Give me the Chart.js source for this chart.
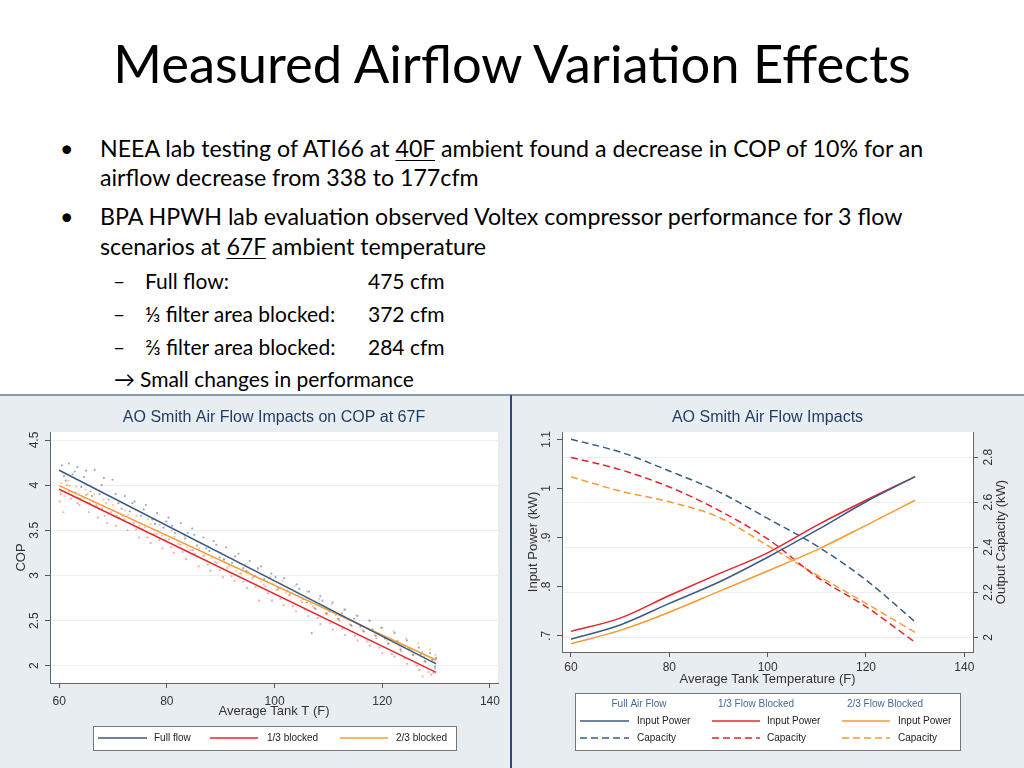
<!DOCTYPE html>
<html>
<head>
<meta charset="utf-8">
<script src="https://cdn.jsdelivr.net/npm/chart.js@4.4.0/dist/chart.umd.min.js"></script>
<style>
  html, body { margin: 0; padding: 0; }
  body { width: 1024px; height: 768px; position: relative; overflow: hidden; background: #fff;
         font-family: Lato, 'Open Sans', sans-serif; color: #000; }
  .t { position: absolute; white-space: nowrap; line-height: 1; }
  #title { left: 0; width: 1024px; text-align: center; top: 37px; font-size: 52.5px; }
  .b { font-size: 23.2px; }
  .s { font-size: 21px; }
  u { text-decoration-thickness: 1px; text-underline-offset: 3px; }
  #panel { position: absolute; left: 0; top: 394px; width: 1024px; height: 374px; background: #e8edf2;
           border-top: 2px solid #8a9bb0; box-sizing: border-box; }
  #divider { position: absolute; left: 510px; top: 395px; width: 2px; height: 373px; background: #2a4a7f; }
  canvas { position: absolute; }
</style>
</head>
<body>
<div id="title" class="t">Measured Airflow Variation Effects</div>

<div class="t b" style="left:60px;top:137px">•</div>
<div class="t b" style="left:100px;top:137px">NEEA lab testing of ATI66 at <u>40F</u> ambient found a decrease in COP of 10% for an</div>
<div class="t b" style="left:100px;top:166px">airflow decrease from 338 to 177cfm</div>
<div class="t b" style="left:60px;top:205px">•</div>
<div class="t b" style="left:100px;top:205px">BPA HPWH lab evaluation observed Voltex compressor performance for 3 flow</div>
<div class="t b" style="left:100px;top:235px">scenarios at <u>67F</u> ambient temperature</div>

<div class="t s" style="left:113px;top:270px">–</div>
<div class="t s" style="left:145px;top:270px">Full flow:</div>
<div class="t s" style="left:368px;top:270px">475 cfm</div>
<div class="t s" style="left:113px;top:303px">–</div>
<div class="t s" style="left:145px;top:303px">⅓ filter area blocked:</div>
<div class="t s" style="left:368px;top:303px">372 cfm</div>
<div class="t s" style="left:113px;top:336px">–</div>
<div class="t s" style="left:145px;top:336px">⅔ filter area blocked:</div>
<div class="t s" style="left:368px;top:336px">284 cfm</div>
<div class="t s" style="left:114px;top:368px">→</div>
<div class="t s" style="left:140px;top:368px">Small changes in performance</div>

<div id="panel"></div>
<div id="divider"></div>
<canvas id="copChart" width="510" height="372" style="left:0;top:396px"></canvas>
<canvas id="powerChart" width="511" height="372" style="left:513px;top:396px"></canvas>

<script>
// --- data ---
const tankTicks = [60, 80, 100, 120, 140];
const copTicks = [2, 2.5, 3, 3.5, 4, 4.5];
const copTickLabels = ['2', '2.5', '3', '3.5', '4', '4.5'];
const powerTicks = [0.7, 0.8, 0.9, 1, 1.1];
const powerTickLabels = ['.7', '.8', '.9', '1', '1.1'];
const capTicks = [2, 2.2, 2.4, 2.6, 2.8];
const capTickLabels = ['2', '2.2', '2.4', '2.6', '2.8'];

// left graph: linear fits and measured points
const fitX = [60, 130];
const fullFitCop = [4.165, 2.02];
const blk1FitCop = [3.955, 1.925];
const blk2FitCop = [3.995, 2.063];

const fullFlowPts = [[60.5,4.22],[61.2,4.05],[61.8,4.24],[62.5,4.12],[63.4,4.20],[64.1,3.98],[65.0,4.16],[65.8,3.93],
  [66.6,4.17],[67.5,3.90],[68.3,4.08],[69.2,3.84],[69.9,4.06],[71.0,3.80],[72.2,3.88],[73.1,3.71],[74.0,3.82],
  [75.2,3.66],[76.1,3.78],[77.3,3.62],[78.2,3.69],[79.4,3.53],[80.3,3.64],[81.5,3.47],[82.6,3.58],[83.4,3.41],
  [84.7,3.52],[85.6,3.33],[86.8,3.42],[87.9,3.27],[88.7,3.38],[89.8,3.20],[91.0,3.31],[92.1,3.14],[93.3,3.24],
  [94.2,3.08],[95.4,3.16],[96.3,2.99],[97.5,3.10],[98.6,2.93],[99.4,3.02],[100.7,2.86],[101.8,2.97],[103.0,2.80],
  [104.1,2.90],[105.3,2.74],[106.4,2.82],[106.9,2.36],[107.6,2.63],[108.5,2.77],[109.7,2.58],[110.8,2.70],[111.9,2.52],
  [113.1,2.62],[114.2,2.45],[115.4,2.55],[116.5,2.38],[117.7,2.50],[118.8,2.33],[119.9,2.42],[121.1,2.24],
  [122.3,2.36],[123.4,2.18],[124.6,2.28],[125.7,2.12],[126.8,2.20],[127.9,2.05],[128.9,2.14],[129.8,1.99],
  [60.9,4.10],[62.9,4.15],[64.6,4.09],[66.1,3.88],[67.9,4.00],[70.5,3.90],[71.6,3.74],[73.6,3.80],[75.7,3.73],
  [77.8,3.57],[79.9,3.60],[81.0,3.55],[83.9,3.47],[85.1,3.45],[87.3,3.30],[89.2,3.34],[90.6,3.18],[92.7,3.21],
  [94.8,3.05],[96.9,3.08],[98.1,2.96],[100.2,2.98],[102.4,2.83],[104.6,2.85],[106.0,2.70],[108.9,2.72],[110.2,2.60],
  [112.5,2.58],[114.8,2.52],[116.0,2.44],[118.2,2.40],[120.5,2.30],[122.8,2.27],[125.1,2.19],[127.2,2.13],
  [129.3,2.06],[130.0,2.08]];
const blk1Pts = [[60.3,3.90],[60.8,3.70],[61.5,4.00],[62.2,3.85],[63.0,3.92],[63.8,3.78],[64.6,3.86],[65.5,3.70],
  [66.3,3.82],[67.2,3.64],[68.0,3.74],[68.9,3.58],[69.7,3.70],[70.6,3.55],[71.8,3.66],[72.7,3.50],[73.9,3.58],
  [74.8,3.42],[75.9,3.53],[77.0,3.36],[78.1,3.46],[79.2,3.30],[80.4,3.40],[81.3,3.25],[82.5,3.34],[83.6,3.18],
  [84.8,3.28],[85.9,3.10],[87.0,3.22],[88.1,3.05],[89.3,3.14],[90.4,2.98],[91.5,3.10],[92.6,2.94],[93.8,3.02],
  [94.9,2.86],[96.0,2.98],[97.1,2.72],[98.3,2.88],[99.5,2.72],[100.6,2.84],[101.7,2.67],[102.8,2.78],[104.0,2.60],
  [105.1,2.70],[106.3,2.55],[107.4,2.64],[108.5,2.46],[109.7,2.57],[110.8,2.40],[112.0,2.50],[113.1,2.34],
  [114.3,2.44],[115.4,2.28],[116.6,2.38],[117.7,2.22],[118.9,2.30],[120.0,2.14],[121.2,2.25],[122.3,2.10],
  [123.5,2.16],[124.6,2.02],[125.8,2.12],[126.9,1.95],[127.5,1.88],[128.0,2.04],[129.1,1.90],[129.8,1.97],
  [60.1,3.82],[61.9,3.93],[63.4,3.80],[65.0,3.89],[66.9,3.78],[68.5,3.66],[70.1,3.72],[72.1,3.62],[74.3,3.51],
  [76.4,3.42],[78.6,3.39],[80.8,3.31],[82.9,3.26],[85.2,3.24],[87.6,3.12],[89.8,3.06],[92.0,2.99],[94.2,2.93],
  [96.5,2.87],[98.8,2.80],[101.1,2.74],[103.4,2.66],[105.7,2.62],[108.0,2.53],[110.3,2.47],[112.6,2.41],
  [114.9,2.33],[117.2,2.27],[119.5,2.20],[121.8,2.13],[124.1,2.08],[126.4,2.00],[128.6,1.93],[129.5,1.92]];
const blk2Pts = [[60.4,4.02],[61.0,3.88],[61.7,4.05],[62.4,3.92],[63.2,3.98],[64.0,3.85],[64.9,3.95],[65.7,3.80],
  [66.5,3.90],[67.4,3.74],[68.2,3.84],[69.1,3.68],[70.0,3.78],[71.1,3.64],[72.3,3.72],[73.2,3.58],[74.4,3.66],
  [75.3,3.52],[76.5,3.62],[77.6,3.46],[78.7,3.56],[79.8,3.40],[81.0,3.50],[82.1,3.35],[83.3,3.44],[84.4,3.28],
  [85.5,3.38],[86.7,3.22],[87.8,3.32],[88.9,3.15],[90.1,3.25],[91.2,3.08],[92.4,3.18],[93.5,3.02],[94.6,3.12],
  [95.8,2.96],[96.9,3.06],[98.0,2.90],[99.2,2.98],[100.3,2.84],[101.5,2.94],[102.6,2.78],[103.7,2.88],[104.9,2.72],
  [106.0,2.82],[107.1,2.66],[108.3,2.74],[109.4,2.58],[110.6,2.68],[111.7,2.52],[112.9,2.62],[114.0,2.46],
  [115.2,2.56],[116.3,2.40],[117.5,2.50],[118.6,2.34],[119.8,2.42],[120.9,2.28],[122.1,2.38],[123.2,2.22],
  [124.4,2.30],[125.5,2.16],[126.7,2.25],[127.8,2.10],[128.9,2.18],[129.7,2.04],[129.9,2.12],
  [60.2,3.93],[62.0,3.99],[63.6,3.86],[65.3,3.90],[67.0,3.76],[68.7,3.80],[70.7,3.66],[72.8,3.67],[74.9,3.55],
  [77.0,3.57],[79.1,3.44],[81.4,3.43],[83.7,3.31],[86.0,3.30],[88.3,3.19],[90.6,3.17],[92.9,3.05],[95.2,3.04],
  [97.5,2.93],[99.8,2.91],[102.1,2.81],[104.4,2.78],[106.7,2.68],[109.0,2.65],[111.3,2.56],[113.6,2.52],
  [115.9,2.43],[118.2,2.40],[120.5,2.31],[122.8,2.27],[125.1,2.18],[127.4,2.15],[129.3,2.07],[130.0,2.09]];

// right graph: input power (kW) and output capacity (kW)
const tankTemps = [60, 70, 80, 90, 100, 110, 120, 130];
const fullPower = [0.693, 0.722, 0.766, 0.809, 0.860, 0.915, 0.973, 1.024];
const blk1Power = [0.709, 0.736, 0.782, 0.826, 0.869, 0.925, 0.976, 1.024];
const blk2Power = [0.684, 0.711, 0.748, 0.790, 0.832, 0.875, 0.925, 0.976];
const fullCap = [2.880, 2.823, 2.739, 2.647, 2.528, 2.406, 2.255, 2.069];
const blk1Cap = [2.799, 2.745, 2.668, 2.565, 2.437, 2.269, 2.136, 1.978];
const blk2Cap = [2.713, 2.650, 2.602, 2.534, 2.408, 2.277, 2.151, 2.022];
const groupNames = ['Full Air Flow', '1/3 Flow Blocked', '2/3 Flow Blocked'];

const colBlue = '#3a5b86';
const colRed = '#e3262d';
const colOrange = '#f59b32';
const stataFont = '"Liberation Sans", Arial, sans-serif';
Chart.defaults.font.family = stataFont;

const xy = (xs, ys) => xs.map((x, i) => ({ x, y: ys[i] }));
const fixTicks = vals => s => { s.ticks = vals.map(v => ({ value: v })); };

// white plot region like Stata's plotregion
const plotBg = {
  id: 'plotBg',
  beforeDraw(chart) {
    const { ctx, chartArea: a } = chart;
    ctx.save();
    ctx.fillStyle = '#fff';
    ctx.fillRect(a.left, a.top, a.right - a.left, a.bottom - a.top);
    ctx.restore();
  }
};

// vertical (rotated) y tick labels and the right-hand title
const sideText = {
  id: 'sideText',
  afterDraw(chart, args, opts) {
    const ctx = chart.ctx;
    ctx.save();
    ctx.fillStyle = '#333';
    ctx.textAlign = 'center';
    ctx.textBaseline = 'middle';
    for (const ax of opts.axes || []) {
      const scale = chart.scales[ax.id];
      ctx.font = '12px ' + stataFont;
      scale.ticks.forEach(t => {
        ctx.save();
        ctx.translate(ax.x, scale.getPixelForValue(t.value));
        ctx.rotate(-Math.PI / 2);
        ctx.fillText(ax.labels[ax.values.indexOf(t.value)], 0, 0);
        ctx.restore();
      });
    }
    for (const tt of opts.titles || []) {
      const a = chart.chartArea;
      ctx.font = '13px ' + stataFont;
      ctx.save();
      ctx.translate(tt.x, (a.top + a.bottom) / 2);
      ctx.rotate(-Math.PI / 2);
      ctx.fillText(tt.text, 0, 0);
      ctx.restore();
    }
    ctx.restore();
  }
};

// boxed legend in the Stata style
const boxLegend = {
  id: 'boxLegend',
  afterDraw(chart, args, opts) {
    const ctx = chart.ctx;
    const b = opts.box;
    ctx.save();
    ctx.fillStyle = '#fff';
    ctx.fillRect(b.x, b.y, b.w, b.h);
    ctx.strokeStyle = '#777';
    ctx.lineWidth = 1;
    ctx.strokeRect(b.x + 0.5, b.y + 0.5, b.w, b.h);
    ctx.font = '10px ' + stataFont;
    ctx.textBaseline = 'middle';
    (opts.headers || []).forEach(h => {
      ctx.fillStyle = '#45689a';
      ctx.textAlign = 'center';
      ctx.fillText(h.text, h.x, h.y);
    });
    opts.items.forEach(it => {
      const ds = chart.data.datasets[it.ds];
      ctx.strokeStyle = ds.borderColor;
      ctx.lineWidth = ds.borderWidth;
      ctx.setLineDash(ds.borderDash || []);
      ctx.beginPath();
      ctx.moveTo(it.x0, it.y);
      ctx.lineTo(it.x1, it.y);
      ctx.stroke();
      ctx.setLineDash([]);
      ctx.fillStyle = '#222';
      ctx.textAlign = 'left';
      ctx.fillText(ds.label, it.tx, it.y);
    });
    ctx.restore();
  }
};

const axisGrid = (onArea) => ({ drawOnChartArea: onArea, color: '#eceef1', tickLength: 5, tickColor: '#555' });
const axisBorder = { color: '#666', width: 1 };

/* --- 1. COP vs tank temperature --- */
new Chart(document.getElementById('copChart'), {
  type: 'scatter',
  data: {
    datasets: [
      { label: 'Full flow', data: xy(fitX, fullFitCop), showLine: true, borderColor: colBlue, borderWidth: 1.5, pointRadius: 0, order: 0 },
      { label: '1/3 blocked', data: xy(fitX, blk1FitCop), showLine: true, borderColor: colRed, borderWidth: 1.5, pointRadius: 0, order: 0 },
      { label: '2/3 blocked', data: xy(fitX, blk2FitCop), showLine: true, borderColor: colOrange, borderWidth: 1.5, pointRadius: 0, order: 0 },
      { label: 'Full flow data', data: fullFlowPts, pointRadius: 1.1, borderWidth: 0, backgroundColor: 'rgba(80,100,140,0.55)', order: 1 },
      { label: '1/3 blocked data', data: blk1Pts, pointRadius: 1.1, borderWidth: 0, backgroundColor: 'rgba(240,100,100,0.55)', order: 1 },
      { label: '2/3 blocked data', data: blk2Pts, pointRadius: 1.1, borderWidth: 0, backgroundColor: 'rgba(248,165,80,0.6)', order: 1 }
    ]
  },
  options: {
    responsive: false,
    animation: false,
    layout: { padding: { left: 0, right: 12, top: 0, bottom: 45 } },
    plugins: {
      legend: { display: false },
      tooltip: { enabled: false },
      title: {
        display: true, text: 'AO Smith Air Flow Impacts on COP at 67F', fullSize: false,
        color: '#1e3a5f', font: { size: 16, weight: 'normal' }, padding: { top: 12, bottom: 4.8 }
      },
      sideText: { axes: [{ id: 'y', x: 35, values: copTicks, labels: copTickLabels }] },
      boxLegend: {
        box: { x: 93, y: 330, w: 363, h: 24 },
        items: [
          { ds: 0, x0: 98, x1: 147, tx: 154, y: 342 },
          { ds: 1, x0: 210, x1: 258, tx: 267, y: 342 },
          { ds: 2, x0: 340, x1: 388, tx: 396, y: 342 }
        ]
      }
    },
    scales: {
      x: {
        type: 'linear', min: 58.3, max: 141.5,
        afterBuildTicks: fixTicks(tankTicks),
        afterFit: s => { s.height = 40; },
        grid: axisGrid(false), border: axisBorder,
        ticks: { color: '#333', font: { size: 12 }, padding: 6.5 },
        title: { display: true, text: 'Average Tank T (F)', color: '#333', font: { size: 13 }, padding: { top: 0, bottom: 4.2 } }
      },
      y: {
        type: 'linear', min: 1.808, max: 4.589,
        afterBuildTicks: fixTicks(copTicks),
        afterFit: s => { s.width = 50; },
        grid: axisGrid(true), border: axisBorder,
        ticks: { display: false },
        title: { display: true, text: 'COP', color: '#333', font: { size: 13 }, padding: { top: 13.2, bottom: 0 } }
      }
    }
  },
  plugins: [plotBg, sideText, boxLegend]
});

/* --- 2. Input power and capacity --- */
const lineStyle = { borderWidth: 1.5, pointRadius: 0, cubicInterpolationMode: 'monotone' };
new Chart(document.getElementById('powerChart'), {
  type: 'line',
  data: {
    datasets: [
      { label: 'Input Power', data: xy(tankTemps, fullPower), yAxisID: 'y', borderColor: colBlue, ...lineStyle },
      { label: 'Input Power', data: xy(tankTemps, blk1Power), yAxisID: 'y', borderColor: colRed, ...lineStyle },
      { label: 'Input Power', data: xy(tankTemps, blk2Power), yAxisID: 'y', borderColor: colOrange, ...lineStyle },
      { label: 'Capacity', data: xy(tankTemps, fullCap), yAxisID: 'y2', borderColor: colBlue, borderDash: [7, 4], ...lineStyle },
      { label: 'Capacity', data: xy(tankTemps, blk1Cap), yAxisID: 'y2', borderColor: colRed, borderDash: [7, 4], ...lineStyle },
      { label: 'Capacity', data: xy(tankTemps, blk2Cap), yAxisID: 'y2', borderColor: colOrange, borderDash: [7, 4], ...lineStyle }
    ]
  },
  options: {
    responsive: false,
    animation: false,
    layout: { padding: { left: 0, right: 0, top: 0, bottom: 80 } },
    plugins: {
      legend: { display: false },
      tooltip: { enabled: false },
      title: {
        display: true, text: 'AO Smith Air Flow Impacts', fullSize: false,
        color: '#1e3a5f', font: { size: 16, weight: 'normal' }, padding: { top: 12, bottom: 4.8 }
      },
      sideText: {
        axes: [
          { id: 'y', x: 34, values: powerTicks, labels: powerTickLabels },
          { id: 'y2', x: 476, values: capTicks, labels: capTickLabels }
        ],
        titles: [{ text: 'Output Capacity (kW)', x: 488 }]
      },
      boxLegend: {
        box: { x: 62, y: 297, w: 385, h: 57 },
        headers: [
          { text: groupNames[0], x: 126, y: 308 },
          { text: groupNames[1], x: 243, y: 308 },
          { text: groupNames[2], x: 372, y: 308 }
        ],
        items: [
          { ds: 0, x0: 67, x1: 116, tx: 124, y: 325 },
          { ds: 1, x0: 199, x1: 247, tx: 254, y: 325 },
          { ds: 2, x0: 329, x1: 377, tx: 385, y: 325 },
          { ds: 3, x0: 67, x1: 116, tx: 124, y: 342 },
          { ds: 4, x0: 199, x1: 247, tx: 254, y: 342 },
          { ds: 5, x0: 329, x1: 377, tx: 385, y: 342 }
        ]
      }
    },
    scales: {
      x: {
        type: 'linear', min: 58.17, max: 141.77,
        afterBuildTicks: fixTicks(tankTicks),
        afterFit: s => { s.height = 36; },
        grid: axisGrid(false), border: axisBorder,
        ticks: { color: '#333', font: { size: 12 }, padding: 3.5 },
        title: { display: true, text: 'Average Tank Temperature (F)', color: '#333', font: { size: 13 }, padding: { top: 0, bottom: 1.2 } }
      },
      y: {
        type: 'linear', position: 'left', min: 0.667, max: 1.115,
        afterBuildTicks: fixTicks(powerTicks),
        afterFit: s => { s.width = 49; },
        grid: axisGrid(false), border: axisBorder,
        ticks: { display: false },
        title: { display: true, text: 'Input Power (kW)', color: '#333', font: { size: 13 }, padding: { top: 12.2, bottom: 0 } }
      },
      y2: {
        type: 'linear', position: 'right', min: 1.935, max: 2.912,
        afterBuildTicks: fixTicks(capTicks),
        afterFit: s => { s.width = 51; },
        grid: axisGrid(true), border: axisBorder,
        ticks: { display: false }
      }
    }
  },
  plugins: [plotBg, sideText, boxLegend]
});
</script>
</body>
</html>
